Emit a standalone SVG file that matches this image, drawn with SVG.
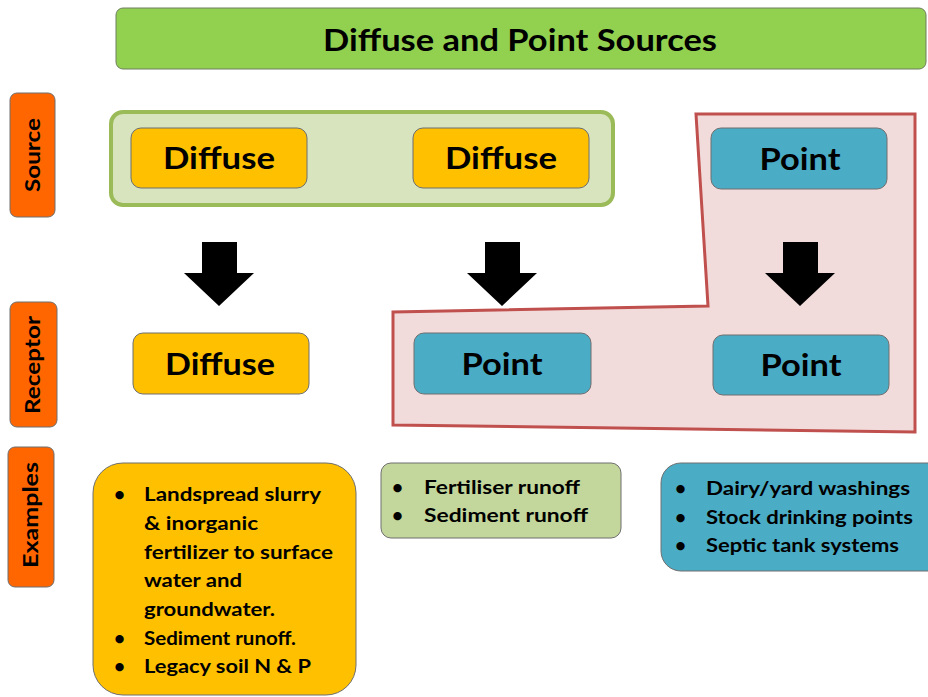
<svg xmlns="http://www.w3.org/2000/svg" width="928" height="697" viewBox="0 0 928 697">
<style>
text{font-family:"Lato","Liberation Sans",sans-serif;font-weight:bold;fill:#000}
.node{stroke:#6f6f6f;stroke-width:1}
.orange{fill:#FF6600}
.yellow{fill:#FFC000}
.teal{fill:#4BACC6}
.big{font-size:30px;text-anchor:middle}
.side{font-size:20px;text-anchor:middle}
.bl{font-size:19px}
.arrow{fill:#000}
</style>
<rect width="928" height="697" fill="#fff"/>
<g id="title">
<rect x="116" y="8" width="810" height="61" rx="7" fill="#92D050" stroke="#6f7f5f" stroke-width="1"/>
<text class="big" x="520" y="51" textLength="394" lengthAdjust="spacingAndGlyphs">Diffuse and Point Sources</text>
</g>
<g id="label-source">
<rect class="node orange" x="10" y="93" width="45" height="124" rx="7"/>
<text class="side" transform="translate(40,155) rotate(-90)" textLength="74" lengthAdjust="spacingAndGlyphs">Source</text>
</g>
<g id="label-receptor">
<rect class="node orange" x="10" y="302" width="47" height="125" rx="7"/>
<text class="side" transform="translate(40,365) rotate(-90)" textLength="98" lengthAdjust="spacingAndGlyphs">Receptor</text>
</g>
<g id="label-examples">
<rect class="node orange" x="8" y="447" width="46" height="140" rx="7"/>
<text class="side" transform="translate(38,515) rotate(-90)" textLength="106" lengthAdjust="spacingAndGlyphs">Examples</text>
</g>
<g id="diffuse-group">
<rect x="111" y="112" width="502" height="93" rx="12" fill="#D7E4BD" stroke="#9BBB59" stroke-width="4"/>
</g>
<g id="point-group">
<polygon points="696,114 915,114 915,432 393,425 393,312 708,306" fill="#F2DCDB" stroke="#C0504D" stroke-width="3" stroke-linejoin="miter"/>
</g>
<g id="source-diffuse-1">
<rect class="node yellow" x="131" y="128" width="176" height="60" rx="10"/>
<text class="big" x="219" y="169" textLength="112" lengthAdjust="spacingAndGlyphs">Diffuse</text>
</g>
<g id="source-diffuse-2">
<rect class="node yellow" x="413" y="128" width="176" height="60" rx="10"/>
<text class="big" x="501" y="169" textLength="112" lengthAdjust="spacingAndGlyphs">Diffuse</text>
</g>
<g id="source-point">
<rect class="node teal" x="711" y="128" width="176" height="61" rx="10"/>
<text class="big" x="800" y="170" textLength="81" lengthAdjust="spacingAndGlyphs">Point</text>
</g>
<g id="receptor-diffuse">
<rect class="node yellow" x="133" y="333" width="176" height="61" rx="10"/>
<text class="big" x="220" y="375" textLength="110" lengthAdjust="spacingAndGlyphs">Diffuse</text>
</g>
<g id="receptor-point-1">
<rect class="node teal" x="414" y="333" width="177" height="61" rx="10"/>
<text class="big" x="502" y="375" textLength="81" lengthAdjust="spacingAndGlyphs">Point</text>
</g>
<g id="receptor-point-2">
<rect class="node teal" x="713" y="335" width="176" height="60" rx="10"/>
<text class="big" x="801" y="376" textLength="81" lengthAdjust="spacingAndGlyphs">Point</text>
</g>
<g id="connectors">
<polygon class="arrow" points="202,242 237,242 237,273 254,273 219,306 184,273 202,273"/>
<polygon class="arrow" points="485,242 520,242 520,273 537,273 502,306 467,273 485,273"/>
<polygon class="arrow" points="783,242 818,242 818,273 835,273 800,306 765,273 783,273"/>
</g>
<g id="examples-diffuse">
<rect class="node yellow" x="93" y="463" width="263" height="232" rx="30"/>
<text class="bl" x="114" y="501">•</text>
<text class="bl" x="144" y="501" textLength="177" lengthAdjust="spacingAndGlyphs">Landspread slurry</text>
<text class="bl" x="144" y="530" textLength="114" lengthAdjust="spacingAndGlyphs">&amp; inorganic</text>
<text class="bl" x="144" y="559" textLength="189" lengthAdjust="spacingAndGlyphs">fertilizer to surface</text>
<text class="bl" x="144" y="587" textLength="98" lengthAdjust="spacingAndGlyphs">water and</text>
<text class="bl" x="144" y="616" textLength="131" lengthAdjust="spacingAndGlyphs">groundwater.</text>
<text class="bl" x="114" y="645">•</text>
<text class="bl" x="144" y="645" textLength="152" lengthAdjust="spacingAndGlyphs">Sediment runoff.</text>
<text class="bl" x="114" y="673">•</text>
<text class="bl" x="144" y="673" textLength="167" lengthAdjust="spacingAndGlyphs">Legacy soil N &amp; P</text>
</g>
<g id="examples-mixed">
<rect class="node" x="381" y="463" width="240" height="75" rx="10" fill="#C3D69B"/>
<text class="bl" x="392" y="494">•</text>
<text class="bl" x="424" y="494" textLength="156" lengthAdjust="spacingAndGlyphs">Fertiliser runoff</text>
<text class="bl" x="392" y="522">•</text>
<text class="bl" x="424" y="522" textLength="164" lengthAdjust="spacingAndGlyphs">Sediment runoff</text>
</g>
<g id="examples-point">
<rect class="node teal" x="661" y="463" width="290" height="108" rx="20"/>
<text class="bl" x="675" y="495">•</text>
<text class="bl" x="706" y="495" textLength="204" lengthAdjust="spacingAndGlyphs">Dairy/yard washings</text>
<text class="bl" x="675" y="524">•</text>
<text class="bl" x="706" y="524" textLength="207" lengthAdjust="spacingAndGlyphs">Stock drinking points</text>
<text class="bl" x="675" y="552">•</text>
<text class="bl" x="706" y="552" textLength="193" lengthAdjust="spacingAndGlyphs">Septic tank systems</text>
</g>
</svg>
